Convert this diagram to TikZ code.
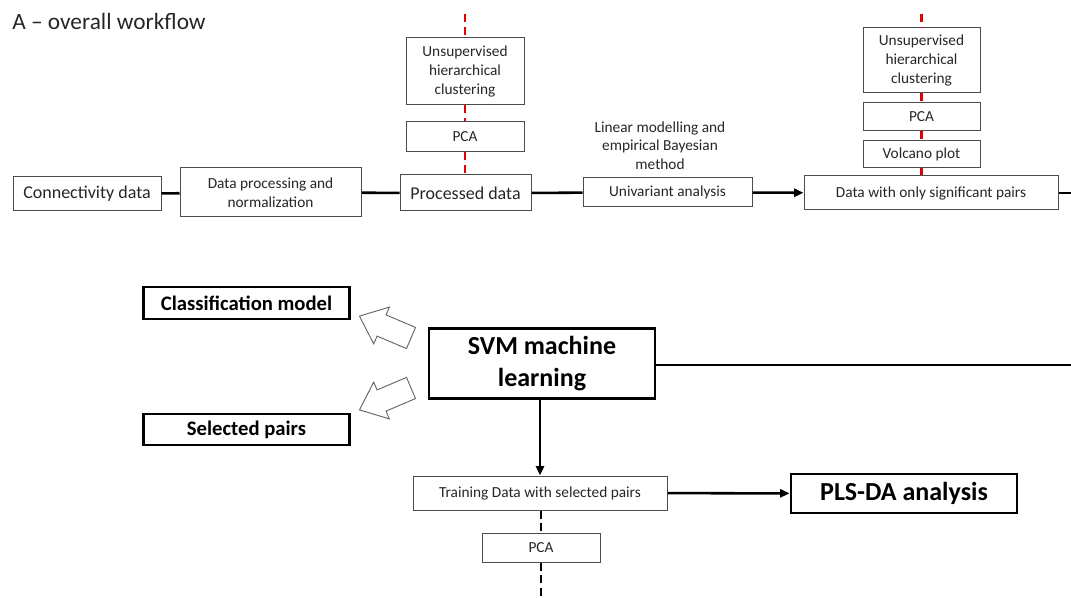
\documentclass[tikz,border=0pt]{standalone}
\usepackage{fontspec}
\setmainfont{Carlito}
\usetikzlibrary{arrows.meta}
\begin{document}
\begin{tikzpicture}[x=0.75pt,y=-0.75pt,
  box/.style={draw=black!70, line width=0.75pt, fill=white, inner sep=0pt, align=center, text=black!85, font=\fontsize{11.5}{14.2}\selectfont},
  bigbox/.style={box, font=\fontsize{13.5}{16}\selectfont},
  bbox/.style={draw=black, line width=2.2pt, fill=white, inner sep=0pt, align=center, font=\bfseries\fontsize{15.5}{18}\selectfont},
  conn/.style={line width=1.9pt},
  arr/.style={conn, -{Triangle[length=7pt,width=6pt]}},
  reddash/.style={draw=red!90!black, line width=2.2pt, dash pattern=on 6pt off 3.5pt},
  blackdash/.style={draw=black, line width=2.2pt, dash pattern=on 6pt off 3.5pt},
  hollow/.style={draw=black!60, line width=0.7pt, fill=white}
]
\useasboundingbox (0,0) rectangle (1071,598);

\node[anchor=west, text=black!85, font=\fontsize{17.5}{20}\selectfont, inner sep=0pt] (title) at (12,21) {A -- overall workflow};

% top row
\node[bigbox, minimum width=111pt, minimum height=25.5pt] (conn) at (87,194) {Connectivity data};
\node[box, minimum width=135.75pt, minimum height=36.75pt] (proc) at (270.5,192.5) {Data processing and\\normalization};
\node[bigbox, minimum width=98.25pt, minimum height=27pt] (procd) at (465.5,193) {Processed data};
\node[box, minimum width=88.5pt, minimum height=50.25pt] (uhc1) at (465,71.5) {Unsupervised\\hierarchical\\clustering};
\node[box, minimum width=88.5pt, minimum height=22.5pt] (pca1) at (465,137) {PCA};
\node[align=center, text=black!85, font=\fontsize{11.5}{14}\selectfont, inner sep=0pt] (lm) at (660,145.5) {Linear modelling and\\empirical Bayesian\\method};
\node[box, minimum width=126.75pt, minimum height=21.75pt] (uni) at (667.5,192.5) {Univariant analysis};
\node[box, minimum width=190.5pt, minimum height=25.5pt] (sig) at (931,193) {Data with only significant pairs};
\node[box, minimum width=87.75pt, minimum height=48.75pt] (uhc2) at (921.5,60.5) {Unsupervised\\hierarchical\\clustering};
\node[box, minimum width=87.75pt, minimum height=21pt] (pca2) at (921.5,117) {PCA};
\node[box, minimum width=87.75pt, minimum height=20.25pt] (volc) at (921.5,154.5) {Volcano plot};

\coordinate (t1) at (465,14);
\coordinate (t2) at (921.5,14);
\coordinate (r1) at (1071,193);

\draw[conn] (conn) -- (proc);
\draw[conn] (proc) -- (procd);
\draw[conn] (procd) -- (uni);
\draw[arr] (uni) -- (sig);
\draw[conn] (sig) -- (r1);

\draw[reddash] (t1) -- (uhc1.north);
\draw[reddash] (uhc1.south) -- (pca1.north);
\draw[reddash] (pca1.south) -- (procd.north -| pca1.south);
\draw[reddash] (t2) -- (uhc2.north);
\draw[reddash] (uhc2.south) -- (pca2.north);
\draw[reddash] (pca2.south) -- (volc.north);
\draw[reddash] (volc.south) -- (volc.south |- sig.north);

% bottom part
\node[bbox, minimum width=169.5pt, minimum height=53pt, font=\bfseries\fontsize{19.5}{24}\selectfont] (svm) at (542,363.5) {SVM machine\\learning};
\node[bbox, minimum width=155pt, minimum height=24pt] (cls) at (246.5,303) {Classification model};
\node[bbox, minimum width=155pt, minimum height=23.25pt] (sel) at (246.5,429.5) {Selected pairs};
\node[box, minimum width=190.5pt, minimum height=25.5pt] (train) at (540,493) {Training Data with selected pairs};
\node[bbox, minimum width=169.5pt, minimum height=29.25pt, font=\bfseries\fontsize{19.5}{23}\selectfont] (pls) at (904,493.5) {PLS-DA analysis};
\node[box, minimum width=88.5pt, minimum height=21.75pt] (pca3) at (541,547.5) {PCA};

\coordinate (r2) at (1071,365);
\coordinate (b1) at (541,598);

\draw[conn, line width=2.2pt] (svm.east |- r2) -- (r2);
\draw[arr] (svm.south -| train.north) -- (train.north);
\draw[arr] (train) -- (pls);
\draw[blackdash] (train.south -| pca3.north) -- (pca3.north);
\draw[blackdash] (pca3.south) -- (b1);

% hollow block arrows
\begin{scope}[shift={(411,338)}, rotate=157]
  \draw[hollow] (0,-11.5) -- (32,-11.5) -- (32,-20) -- (56,0) -- (32,20) -- (32,11.5) -- (0,11.5) -- cycle;
\end{scope}
\begin{scope}[shift={(411,388)}, rotate=203]
  \draw[hollow] (0,-11.5) -- (32,-11.5) -- (32,-20) -- (56,0) -- (32,20) -- (32,11.5) -- (0,11.5) -- cycle;
\end{scope}
\end{tikzpicture}
\end{document}
